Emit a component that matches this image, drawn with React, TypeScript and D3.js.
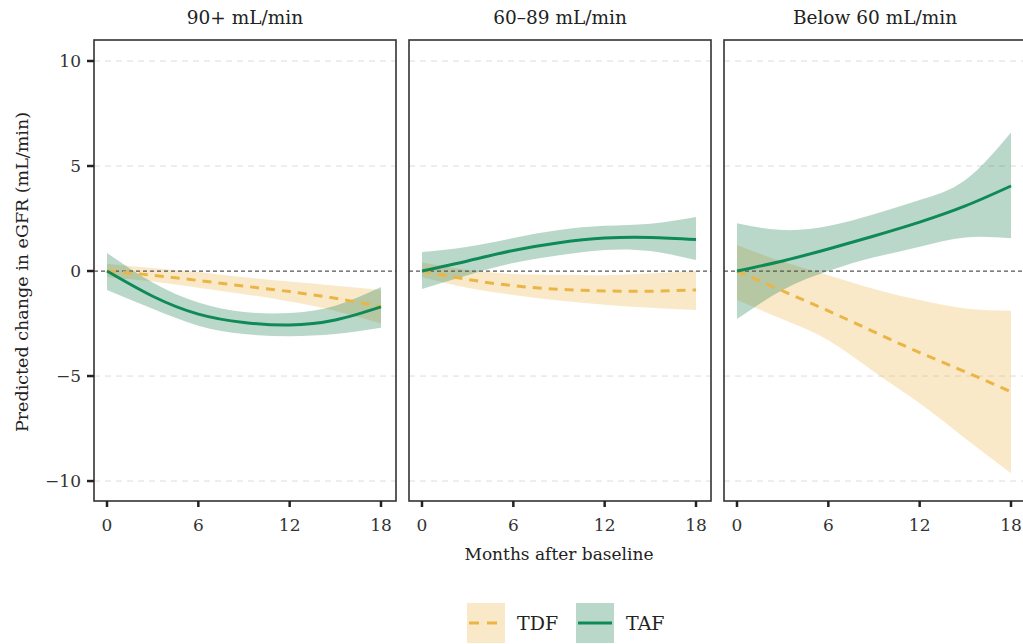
import React from "react";
import * as d3 from "d3";

const months = [0, 3, 6, 9, 12, 15, 18];
const panels = ["90+ mL/min", "60\u201389 mL/min", "Below 60 mL/min"];
const yTicks = [-10, -5, 0, 5, 10];
const xTicks = [0, 6, 12, 18];

// TDF estimates per panel
const tdfFit = [
  [0, -0.2, -0.45, -0.72, -0.98, -1.3, -1.7],
  [0, -0.4, -0.7, -0.87, -0.95, -0.96, -0.9],
  [0, -0.95, -1.9, -2.9, -3.88, -4.8, -5.75],
];
const tdfLow = [
  [-0.3, -0.5, -0.8, -1.1, -1.45, -1.9, -2.5],
  [-0.3, -0.8, -1.14, -1.4, -1.6, -1.75, -1.86],
  [-1.38, -2.3, -3.3, -4.8, -6.3, -7.97, -9.63],
];
const tdfHigh = [
  [0.35, 0.15, -0.05, -0.3, -0.5, -0.7, -0.9],
  [0.4, 0.05, -0.14, -0.18, -0.2, -0.12, 0],
  [1.24, 0.45, -0.2, -0.85, -1.38, -1.78, -1.89],
];
// TAF estimates per panel
const tafFit = [
  [0, -1.2, -2.05, -2.45, -2.57, -2.33, -1.71],
  [0, 0.48, 0.98, 1.35, 1.57, 1.6, 1.5],
  [0, 0.48, 1.05, 1.67, 2.33, 3.1, 4.05],
];
const tafLow = [
  [-0.9, -1.8, -2.6, -3.0, -3.1, -3.0, -2.7],
  [-0.86, -0.2, 0.38, 0.75, 1.0, 0.95, 0.52],
  [-2.29, -0.9, 0.0, 0.65, 1.16, 1.6, 1.56],
];
const tafHigh = [
  [0.86, -0.55, -1.5, -1.95, -2.0, -1.65, -0.76],
  [0.9, 1.15, 1.57, 1.95, 2.15, 2.25, 2.57],
  [2.27, 1.95, 2.14, 2.7, 3.38, 4.33, 6.59],
];

const legendItems = ["TDF", "TAF"];

const TDF_LINE = "#ebb546";
const TDF_FILL = "rgba(237,182,72,0.3)";
const TAF_LINE = "#0e8a56";
const TAF_FILL = "rgba(26,127,78,0.3)";
const FONT = "'DejaVu Serif', 'Liberation Serif', serif";

export default function App() {
  const W = 1023;
  const H = 644;
  const panelLefts = [94, 409, 724];
  const panelW = 302;
  const top = 40;
  const bottom = 501;
  const y = d3.scaleLinear().domain([-10.95, 11]).range([bottom, top]);

  const curve = d3.curveNatural;

  return (
    <svg width={W} height={H} style={{ position: "absolute", left: 0, top: 0, background: "#fff" }}>
      {panels.map((title, p) => {
        const x0 = panelLefts[p];
        const x = d3.scaleLinear().domain([0, 18]).range([x0 + 13, x0 + panelW - 15]);
        const area = (lo: number[], hi: number[]) =>
          d3
            .area<number>()
            .x((_, i) => x(months[i]))
            .y0((_, i) => y(lo[i]))
            .y1((_, i) => y(hi[i]))
            .curve(curve)(months) || "";
        const line = (v: number[]) =>
          d3
            .line<number>()
            .x((_, i) => x(months[i]))
            .y((_, i) => y(v[i]))
            .curve(curve)(months) || "";
        return (
          <g key={p}>
            <defs>
              <clipPath id={`clip${p}`}>
                <rect x={x0} y={top} width={panelW} height={bottom - top} />
              </clipPath>
            </defs>
            {yTicks
              .filter((t) => t !== 0)
              .map((t) => (
                <line
                  key={t}
                  x1={x0}
                  x2={x0 + panelW}
                  y1={y(t)}
                  y2={y(t)}
                  stroke="#dcdcdc"
                  strokeWidth={1}
                  strokeDasharray="6,5"
                />
              ))}
            <g clipPath={`url(#clip${p})`}>
              <path d={area(tdfLow[p], tdfHigh[p])} fill={TDF_FILL} />
              <path d={area(tafLow[p], tafHigh[p])} fill={TAF_FILL} />
              <line
                x1={x0}
                x2={x0 + panelW}
                y1={y(0)}
                y2={y(0)}
                stroke="#555"
                strokeWidth={1.2}
                strokeDasharray="4,3"
              />
              <path d={line(tdfFit[p])} fill="none" stroke={TDF_LINE} strokeWidth={3} strokeDasharray="9,7" />
              <path d={line(tafFit[p])} fill="none" stroke={TAF_LINE} strokeWidth={3} />
            </g>
            <rect x={x0} y={top} width={panelW} height={bottom - top} fill="none" stroke="#333" strokeWidth={1.6} />
            <text
              x={x0 + panelW / 2}
              y={24}
              textAnchor="middle"
              fontFamily={FONT}
              fontSize={18.5}
              fill="#222"
            >
              {title}
            </text>
            {xTicks.map((t) => (
              <g key={t}>
                <line x1={x(t)} x2={x(t)} y1={bottom} y2={bottom + 6} stroke="#222" strokeWidth={2.5} />
                <text
                  x={x(t)}
                  y={bottom + 30}
                  textAnchor="middle"
                  fontFamily={FONT}
                  fontSize={17}
                  fill="#333"
                >
                  {t}
                </text>
              </g>
            ))}
          </g>
        );
      })}
      {yTicks.map((t) => (
        <g key={t}>
          <line x1={87} x2={94} y1={y(t)} y2={y(t)} stroke="#222" strokeWidth={2.5} />
          <text
            x={81}
            y={y(t) + 6}
            textAnchor="end"
            fontFamily={FONT}
            fontSize={17}
            fill="#333"
          >
            {t < 0 ? `\u2212${Math.abs(t)}` : t}
          </text>
        </g>
      ))}
      <text
        transform={`translate(28, ${272}) rotate(-90)`}
        textAnchor="middle"
        fontFamily={FONT}
        fontSize={17.5}
        fill="#222"
      >
        Predicted change in eGFR (mL/min)
      </text>
      <text x={559} y={560} textAnchor="middle" fontFamily={FONT} fontSize={17} fill="#222">
        Months after baseline
      </text>
      {legendItems.map((name, i) => {
        const lx = 467 + i * 109;
        const isTDF = name === "TDF";
        return (
          <g key={name}>
            <rect x={lx} y={603} width={38} height={40} fill={isTDF ? TDF_FILL : TAF_FILL} />
            <line
              x1={lx + 2}
              x2={lx + 36}
              y1={623}
              y2={623}
              stroke={isTDF ? TDF_LINE : TAF_LINE}
              strokeWidth={3}
              strokeDasharray={isTDF ? "10,8" : undefined}
            />
            <text x={lx + 50} y={630} fontFamily={FONT} fontSize={19} fill="#222">
              {name}
            </text>
          </g>
        );
      })}
    </svg>
  );
}
